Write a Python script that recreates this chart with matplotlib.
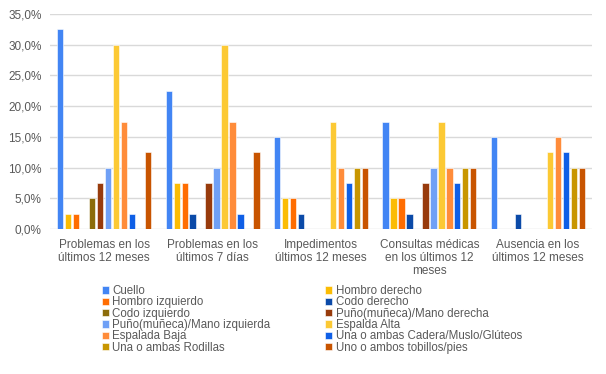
import numpy as np
import matplotlib
matplotlib.use('Agg')
import matplotlib.pyplot as plt
from matplotlib.ticker import FuncFormatter

plt.rcParams['font.family'] = ['Liberation Sans', 'DejaVu Sans']

# categorias del eje x
categorias = ['Problemas en los\núltimos 12 meses',
              'Problemas en los\núltimos 7 días',
              'Impedimentos\núltimos 12 meses',
              'Consultas médicas\nen los últimos 12\nmeses',
              'Ausencia en los\núltimos 12 meses']

series = ['Cuello', 'Hombro derecho', 'Hombro izquierdo', 'Codo derecho',
          'Codo izquierdo', 'Puño(muñeca)/Mano derecha',
          'Puño(muñeca)/Mano izquierda', 'Espalda Alta', 'Espalada Baja',
          'Una o ambas Cadera/Muslo/Glúteos', 'Una o ambas Rodillas',
          'Uno o ambos tobillos/pies']

# porcentajes por zona (una lista por categoria del eje x)
cuello = [32.5, 22.5, 15.0, 17.5, 15.0]
hombro_der = [2.5, 7.5, 5.0, 5.0, 0.0]
hombro_izq = [2.5, 7.5, 5.0, 5.0, 0.0]
codo_der = [0.0, 2.5, 2.5, 2.5, 2.5]
codo_izq = [5.0, 0.0, 0.0, 0.0, 0.0]
puno_der = [7.5, 7.5, 0.0, 7.5, 0.0]
puno_izq = [10.0, 10.0, 0.0, 10.0, 0.0]
espalda_alta = [30.0, 30.0, 17.5, 17.5, 12.5]
espalda_baja = [17.5, 17.5, 10.0, 10.0, 15.0]
cadera = [2.5, 2.5, 7.5, 7.5, 12.5]
rodillas = [0.0, 0.0, 10.0, 10.0, 10.0]
tobillos = [12.5, 12.5, 10.0, 10.0, 10.0]

valores = [cuello, hombro_der, hombro_izq, codo_der, codo_izq, puno_der,
           puno_izq, espalda_alta, espalda_baja, cadera, rodillas, tobillos]

colores = ['#4285f4', '#fbbc04', '#ff6d01', '#0b4aa8', '#8c6c0a', '#983b0c',
           '#6fa0f6', '#fcc934', '#ff8c3a', '#0f5fe6', '#c89600', '#c85400']

gris = '#595959'

fig = plt.figure(figsize=(6.06, 3.74), dpi=100)
ax = fig.add_axes([50 / 606, 1 - 229 / 374, 542 / 606, 215 / 374])

n = len(series)
paso = 0.885 / n
x = np.arange(len(categorias))
barras = []
for i in range(n):
    b = ax.bar(x - 0.885 / 2 + paso * (i + 0.5), valores[i], width=paso * 0.78,
               color=colores[i], edgecolor='white', linewidth=0.4,
               label=series[i], zorder=3)
    barras.append(b)

ax.set_xlim(-0.5, len(categorias) - 0.5)
ax.set_ylim(0, 35)
ax.set_yticks(np.arange(0, 36, 5))
ax.yaxis.set_major_formatter(FuncFormatter(lambda v, p: '{:.1f}%'.format(v).replace('.', ',')))
ax.grid(axis='y', color='#d9d9d9', linewidth=1, zorder=0)
for s in ax.spines.values():
    s.set_visible(False)
ax.tick_params(axis='both', length=0, colors=gris, labelsize=8.5)
ax.tick_params(axis='y', pad=6)
ax.tick_params(axis='x', pad=7)
ax.set_xticks(x)
ax.set_xticklabels(categorias, linespacing=1.1)

# legend en dos columnas, orden por filas
orden = [0, 2, 4, 6, 8, 10, 1, 3, 5, 7, 9, 11]
leg = fig.legend([barras[k] for k in orden], [series[k] for k in orden],
                 ncol=2, loc='upper left', bbox_to_anchor=(102 / 606, 1 - 285 / 374),
                 frameon=False, fontsize=8.3, handlelength=0.6, handleheight=0.6,
                 handletextpad=0.3, labelspacing=-0.06, columnspacing=4.75,
                 borderpad=0, borderaxespad=0)
for t in leg.get_texts():
    t.set_color(gris)

fig.savefig('out.png', dpi=100)
